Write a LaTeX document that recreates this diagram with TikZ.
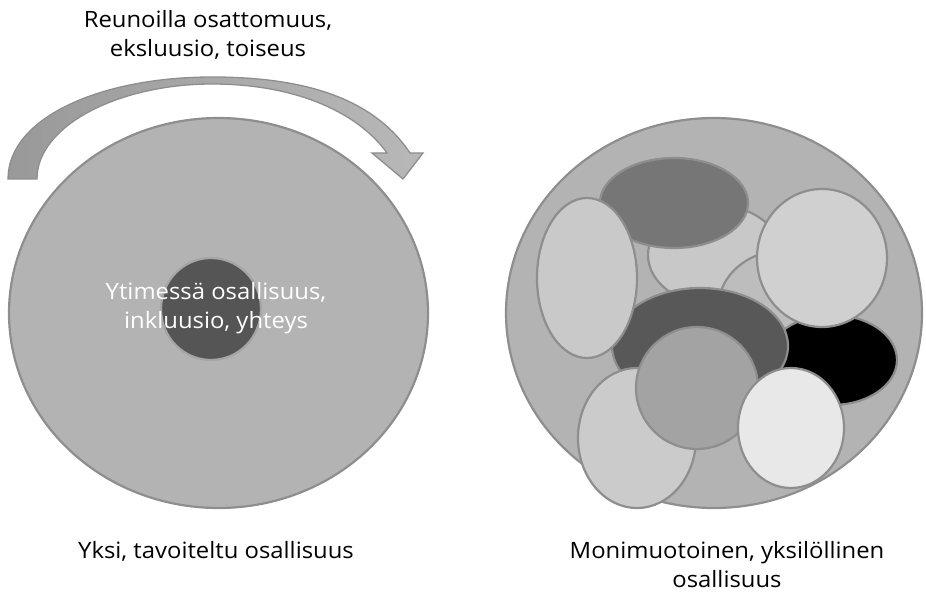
\documentclass[tikz,border=0pt]{standalone}
\usepackage{fontspec}
\setmainfont{Open Sans}[FakeStretch=1.06]
\usetikzlibrary{shapes.geometric}
\definecolor{bigfill}{HTML}{B3B3B3}
\definecolor{edgegray}{HTML}{8E8E8E}
\definecolor{coredark}{HTML}{555555}
\definecolor{cA}{HTML}{767676}
\definecolor{cB}{HTML}{C8C8C8}
\definecolor{cC}{HTML}{BDBDBD}
\definecolor{cD}{HTML}{C9C9C9}
\definecolor{cE}{HTML}{D0D0D0}
\definecolor{cF}{HTML}{585858}
\definecolor{cG}{HTML}{000000}
\definecolor{cH}{HTML}{CBCBCB}
\definecolor{cI}{HTML}{A3A3A3}
\definecolor{cJ}{HTML}{E8E8E8}
\definecolor{arrowL}{HTML}{999999}
\definecolor{arrowR}{HTML}{B8B8B8}
\tikzset{
  blob/.style={ellipse, draw=edgegray, line width=2.2pt, inner sep=0pt},
  lbl/.style={font=\fontsize{22.5}{29}\selectfont, align=center, text=black, inner sep=0pt},
}
\begin{document}
\begin{tikzpicture}[x=1pt,y=-1pt]
\useasboundingbox (0,0) rectangle (926,596);

% curved arrow
\path[left color=arrowL, right color=arrowR, draw=edgegray, line width=1.3pt, line join=miter]
  (8,179) -- (37,179)
  .. controls (37,125) and (120,84) .. (212,84)
  .. controls (300,84) and (360,115) .. (387,153)
  -- (372,153) -- (403,179) -- (423,153) -- (410,153)
  .. controls (372,96) and (300,77) .. (212,77)
  .. controls (100,77) and (8,118) .. (8,179) -- cycle;

% left: one target participation
\node[blob, fill=bigfill, minimum width=419pt, minimum height=390pt] (left) at (218.5,313) {};
\node[blob, fill=coredark, draw=edgegray!80, minimum width=100pt, minimum height=102pt] (core) at (211,309) {};
\node[lbl, text=white, anchor=base] (coretext) at (216,328) {Ytimessä osallisuus,\\inkluusio, yhteys};

% right: diverse participation
\node[blob, fill=bigfill, minimum width=416pt, minimum height=390pt] (right) at (714,313) {};
\node[blob, fill=cB, minimum width=134pt, minimum height=100pt] (b2) at (715,255) {};
\node[blob, fill=cC, minimum width=134pt, minimum height=116pt] (b3) at (785,308) {};
\node[blob, fill=cG, minimum width=130pt, minimum height=90pt] (b7) at (832,360) {};
\node[blob, fill=cA, minimum width=148pt, minimum height=90pt] (b1) at (674,203) {};
\node[blob, fill=cF, minimum width=176pt, minimum height=116pt] (b6) at (700,346) {};
\node[blob, fill=cD, minimum width=100pt, minimum height=160pt] (b4) at (587,278) {};
\node[blob, fill=cE, minimum width=130pt, minimum height=138pt] (b5) at (822,258) {};
\node[blob, fill=cH, minimum width=118pt, minimum height=140pt] (b8) at (637,438) {};
\node[blob, fill=cI, minimum width=122pt, minimum height=122pt] (b9) at (697,388) {};
\node[blob, fill=cJ, minimum width=106pt, minimum height=120pt] (b10) at (791,428) {};

% labels
\node[lbl, anchor=base] (toptext) at (208,57) {Reunoilla osattomuus,\\eksluusio, toiseus};
\node[lbl, anchor=base] (lefttext) at (216,558) {Yksi, tavoiteltu osallisuus};
\node[lbl, anchor=base] (righttext) at (727,587) {Monimuotoinen, yksilöllinen\\osallisuus};
\end{tikzpicture}
\end{document}
